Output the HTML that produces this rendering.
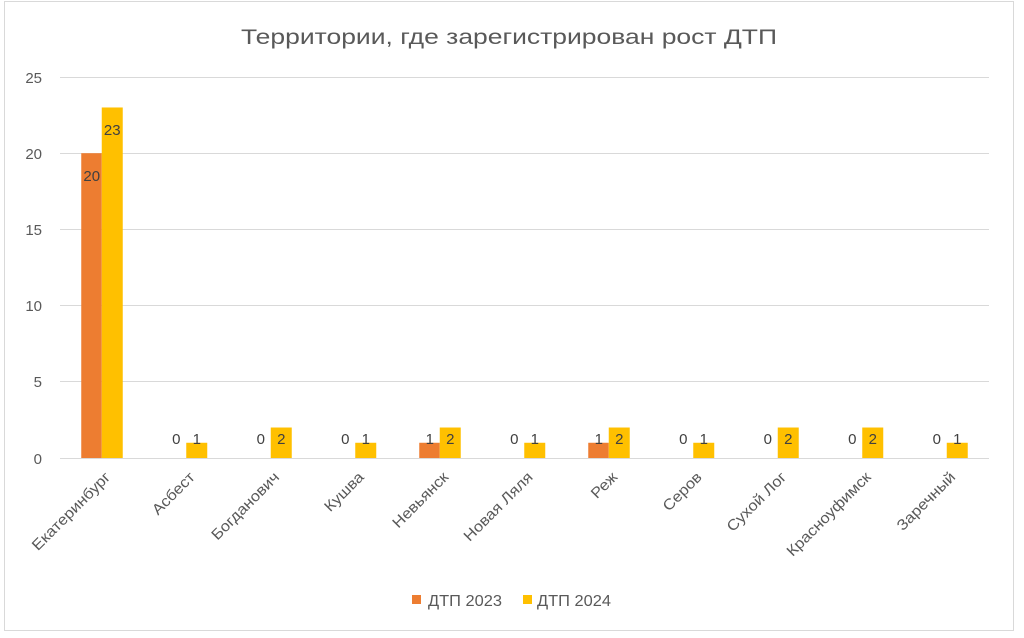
<!DOCTYPE html>
<html><head><meta charset="utf-8"><style>
html,body{margin:0;padding:0;background:#fff;}
svg{display:block;font-family:"Liberation Sans","DejaVu Sans",sans-serif;}
</style></head><body>
<svg width="1024" height="638" viewBox="0 0 1024 638" xmlns="http://www.w3.org/2000/svg">
<rect x="0" y="0" width="1024" height="638" fill="#fff"/>
<rect x="4.5" y="1.5" width="1009" height="629" fill="#fff" stroke="#d9d9d9" stroke-width="1"/>
<text x="509" y="44" text-anchor="middle" font-size="21" fill="#595959" textLength="536" lengthAdjust="spacingAndGlyphs">Территории, где зарегистрирован рост ДТП</text>
<g stroke="#d9d9d9" stroke-width="1">
<line x1="60" y1="77.5" x2="989" y2="77.5"/>
<line x1="60" y1="153.5" x2="989" y2="153.5"/>
<line x1="60" y1="229.5" x2="989" y2="229.5"/>
<line x1="60" y1="305.5" x2="989" y2="305.5"/>
<line x1="60" y1="381.5" x2="989" y2="381.5"/>
<line x1="60" y1="458.5" x2="989" y2="458.5"/>
</g>
<g font-size="15" fill="#595959" text-anchor="end">
<text x="42" y="83">25</text>
<text x="42" y="159">20</text>
<text x="42" y="235">15</text>
<text x="42" y="311">10</text>
<text x="42" y="387">5</text>
<text x="42" y="464">0</text>
</g>
<g id="bars"></g>
<g font-size="15" fill="#404040" text-anchor="middle" id="labels"></g>
<g font-size="15" fill="#595959" text-anchor="end" id="cats"></g>
<rect x="412" y="595" width="9" height="9" fill="#ed7d31"/>
<text x="428" y="606" font-size="16" fill="#595959" textLength="74" lengthAdjust="spacingAndGlyphs">ДТП 2023</text>
<rect x="523" y="595" width="9" height="9" fill="#ffc000"/>
<text x="537" y="606" font-size="16" fill="#595959" textLength="74" lengthAdjust="spacingAndGlyphs">ДТП 2024</text>
<script>
var names=["Екатеринбург","Асбест","Богданович","Кушва","Невьянск","Новая Ляля","Реж","Серов","Сухой Лог","Красноуфимск","Заречный"];
var a=[20,0,0,0,1,0,1,0,0,0,0],b=[23,1,2,1,2,1,2,1,2,2,1];
var ns="http://www.w3.org/2000/svg",u=15.24,base=458;
var G=document.getElementById("bars"),L=document.getElementById("labels"),C=document.getElementById("cats");
function el(t,at,txt,p){var e=document.createElementNS(ns,t);for(var k in at)e.setAttribute(k,at[k]);if(txt!=null)e.textContent=txt;p.appendChild(e);return e;}
for(var i=0;i<11;i++){
 var cx=60+84.5*(i+0.5);
 if(a[i]>0)el("rect",{x:cx-21,y:base-a[i]*u,width:20.5,height:a[i]*u,fill:"#ed7d31"},null,G);
 el("rect",{x:cx-0.5,y:base-b[i]*u,width:21,height:b[i]*u,fill:"#ffc000"},null,G);
 var ya=a[i]>5?181:444, yb=b[i]>5?135:444;
 el("text",{x:cx-10.5,y:ya},String(a[i]),L);
 el("text",{x:cx+10,y:yb},String(b[i]),L);
 el("text",{x:0,y:0,transform:"translate("+(cx+9)+",478) rotate(-45) scale(1.1,1)"},names[i],C);
}
</script>
</svg>
</body></html>
